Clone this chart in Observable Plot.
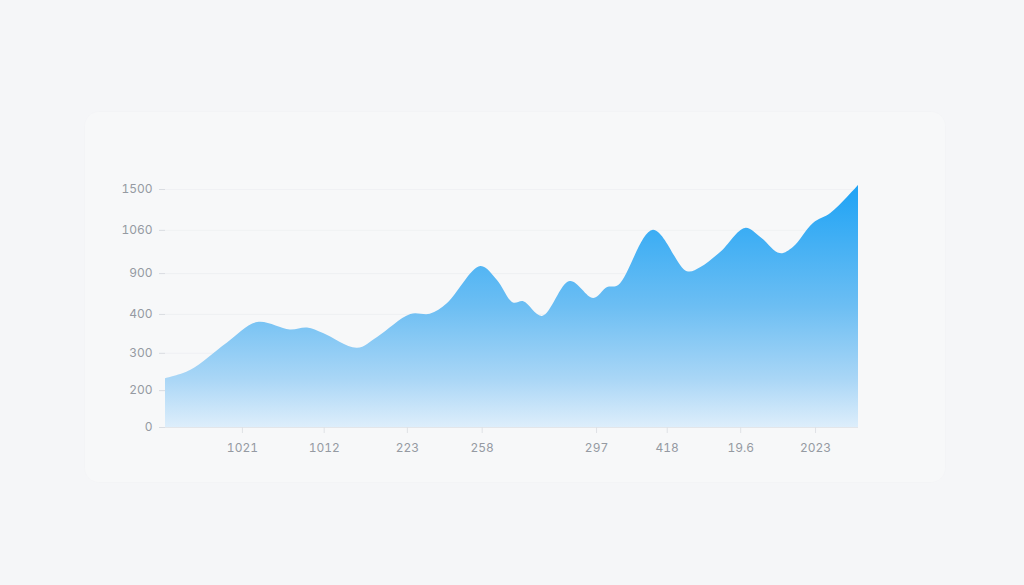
<!DOCTYPE html>
<html><head><meta charset="utf-8">
<script src="https://cdn.jsdelivr.net/npm/d3@7"></script>
<script src="https://cdn.jsdelivr.net/npm/@observablehq/plot@0.6"></script>
<style>
html,body{margin:0;padding:0;background:#f5f6f8;width:1024px;height:585px;overflow:hidden;}
#card{position:absolute;left:85px;top:112px;width:860px;height:370px;border-radius:14px;background:#f7f8f9;box-shadow:0 0 0 1px rgba(0,0,0,0.006);}
#chart{position:absolute;left:0;top:0;}
</style></head><body><div id="card"></div><div id="chart"></div>
<script>
// position along the time axis (0..100) and values
const t      = [0, 3.6, 8.9, 13.3, 18.0, 20.5, 22.8, 27.7, 30.6, 35.4, 38.2, 40.7, 45.5, 47.9, 50.2, 51.7, 54.4, 58.4, 61.8, 63.8, 65.4, 70.4, 75.3, 77.2, 80.1, 83.7, 85.9, 88.7, 90.6, 93.5, 96.0, 98.4, 100];
const values = [232, 254, 326, 379, 360, 365, 351, 313, 341, 400, 402, 534, 926, 815, 540, 555, 395, 803, 595, 729, 754, 1060, 907, 922, 978, 1081, 1034, 974, 997, 1135, 1242, 1414, 1543];
const yTicks = [0, 200, 300, 400, 900, 1060, 1500];
// where each y tick label sits on the (uneven) value axis, in tick steps
const yTickSteps = [0, 0.93, 1.87, 2.85, 3.88, 4.97, 6];
const xTickPos = [11.1, 22.9, 34.9, 45.7, 62.2, 72.4, 83.0, 93.8];
const xTickLabels = ["1021", "1012", "223", "258", "297", "418", "19.6", "2023"];

// the value axis is piecewise-linear between its tick labels
const valueToStep = d3.scaleLinear().domain(yTicks).range(yTickSteps);
const data = t.map((d, i) => ({t: d, v: valueToStep(values[i])}));
const xLabelOf = new Map(xTickPos.map((p, i) => [p, xTickLabels[i]]));
const yLabelOf = new Map(yTickSteps.map((s, i) => [s, String(yTicks[i])]));

const plot = Plot.plot({
  width: 1024, height: 585,
  marginLeft: 165, marginRight: 166, marginTop: 189, marginBottom: 158,
  style: {background: "transparent", fontFamily: "Inter, 'Noto Sans', sans-serif", fontSize: "12px", color: "#8e939b"},
  x: {domain: [0, 100], axis: null},
  y: {domain: [0, 6], axis: null},
  marks: [
    Plot.gridY(yTickSteps, {stroke: "#e6e9ed", strokeOpacity: 0.45}),
    Plot.areaY(data, {x: "t", y: "v", curve: "catmull-rom", fill: "url(#areaGrad)"}),
    Plot.ruleY([0], {stroke: "#e3e6ea"}),
    Plot.axisY(yTickSteps, {label: null, tickSize: 6, tickPadding: 7, stroke: "#d9dce1", fill: "#959aa2", tickFormat: d => yLabelOf.get(d)}),
    Plot.axisX(xTickPos, {label: null, tickSize: 6, tickPadding: 10, stroke: "#dfe2e6", fill: "#959aa2", tickFormat: d => xLabelOf.get(d)})
  ]
});

const svg = d3.select(plot);
const grad = svg.insert("defs", ":first-child").append("linearGradient")
  .attr("id", "areaGrad").attr("x1", 0).attr("y1", 0).attr("x2", 0).attr("y2", 1);
grad.append("stop").attr("offset", "0%").attr("stop-color", "#1ea3f5");
grad.append("stop").attr("offset", "50%").attr("stop-color", "#6cbef3");
grad.append("stop").attr("offset", "80%").attr("stop-color", "#a9d6f6");
grad.append("stop").attr("offset", "100%").attr("stop-color", "#ddeefb");

document.getElementById("chart").appendChild(plot);
</script></body></html>
